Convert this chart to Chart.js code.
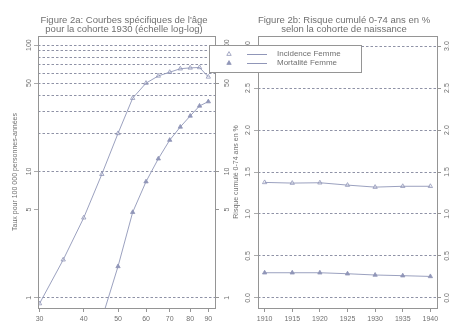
<!DOCTYPE html>
<html>
<head>
<meta charset="utf-8">
<script src="https://cdn.jsdelivr.net/npm/chart.js@4.4.0/dist/chart.umd.min.js"></script>
<style>
  html, body { margin: 0; padding: 0; background: #fff; }
  #wrap { position: relative; width: 453px; height: 329px; }
  canvas { position: absolute; left: 0; top: 0; }
</style>
</head>
<body>
<div id="wrap">
  <canvas id="ageChart" width="453" height="329"></canvas>
  <canvas id="cohortChart" width="453" height="329"></canvas>
</div>
<script>
// Figure 2a: age-specific rates for the 1930 cohort (log-log)
const ages = [30, 35, 40, 45, 50, 55, 60, 65, 70, 75, 80, 85, 90];
const incidenceByAge = [0.9, 2.0, 4.3, 9.5, 20, 38, 50, 57, 61, 65, 66, 66.5, 56];
const mortalityByAge = [null, null, null, 0.68, 1.77, 4.75, 8.3, 12.6, 17.7, 22.5, 27.5, 33, 35.7];
const ageTicks = [30, 40, 50, 60, 70, 80, 90];
const rateTicks = [1, 5, 10, 50, 100];
const rateGrid = [1, 10, 20, 30, 40, 50, 60, 70, 80, 90, 100];

// Figure 2b: cumulative risk 0-74 by birth cohort
const cohorts = [1910, 1915, 1920, 1925, 1930, 1935, 1940];
const incidenceCum = [1.376, 1.368, 1.372, 1.344, 1.32, 1.33, 1.33];
const mortalityCum = [0.30, 0.30, 0.30, 0.288, 0.273, 0.265, 0.256];
const riskTicks = [0, 0.5, 1, 1.5, 2, 2.5, 3];

const seriesNames = ['Incidence Femme', 'Mortalité Femme'];

const FONT = '"Liberation Sans", Arial, sans-serif';
const TEXT = '#707070';
const LINE = '#9096b8';
const GRID = '#72768f';
const BOX = '#959595';

const fixWidth = w => scale => { scale.width = w; };
const fixHeight = h => scale => { scale.height = h; };
const setTicks = vals => scale => { scale.ticks = vals.map(v => ({ value: v })); };

function rotatedLabels(ctx, scale, values, x, fmt) {
  values.forEach(v => {
    const y = scale.getPixelForValue(v);
    ctx.save();
    ctx.translate(x, y);
    ctx.rotate(-Math.PI / 2);
    ctx.fillText(fmt(v), 0, 0);
    ctx.restore();
  });
}

function drawLegend(ctx) {
  ctx.fillStyle = '#fff';
  ctx.fillRect(209.5, 45.5, 152, 27);
  ctx.strokeStyle = BOX;
  ctx.lineWidth = 1;
  ctx.strokeRect(209.5, 45.5, 152, 27);
  ctx.font = `8px ${FONT}`;
  ctx.textAlign = 'left';
  ctx.textBaseline = 'middle';
  seriesNames.forEach((name, i) => {
    const y = 54 + i * 9;
    // triangle symbol
    ctx.beginPath();
    ctx.moveTo(229, y - 2.4);
    ctx.lineTo(231.2, y + 1.4);
    ctx.lineTo(226.8, y + 1.4);
    ctx.closePath();
    ctx.strokeStyle = LINE;
    ctx.lineWidth = 0.8;
    if (i === 1) { ctx.fillStyle = LINE; ctx.fill(); }
    ctx.stroke();
    ctx.beginPath();
    ctx.moveTo(247, y + 0.5);
    ctx.lineTo(267, y + 0.5);
    ctx.lineWidth = 1;
    ctx.stroke();
    ctx.fillStyle = TEXT;
    ctx.fillText(name, 277, y);
  });
}

// titles, frame, rotated tick labels and legend
const panelDecor = {
  id: 'panelDecor',
  afterDraw(chart, args, opts) {
    const { ctx, chartArea: a } = chart;
    ctx.save();
    ctx.strokeStyle = BOX;
    ctx.lineWidth = 1;
    ctx.strokeRect(Math.round(a.left) + 0.5, Math.round(a.top) + 0.5,
      Math.round(a.right - a.left), Math.round(a.bottom - a.top));

    ctx.fillStyle = TEXT;
    ctx.textAlign = 'center';
    ctx.textBaseline = 'middle';
    ctx.font = `9.5px ${FONT}`;
    opts.title.forEach((t, i) => ctx.fillText(t, opts.titleX, 20 + i * 9.5));

    ctx.font = `7px ${FONT}`;
    rotatedLabels(ctx, chart.scales.y, opts.ticks, opts.leftLabelX, opts.fmt);
    rotatedLabels(ctx, chart.scales.y2, opts.ticks, opts.rightLabelX, opts.fmt);

    ctx.save();
    ctx.translate(opts.yTitleX, (a.top + a.bottom) / 2);
    ctx.rotate(-Math.PI / 2);
    ctx.fillText(opts.yTitle, 0, 0);
    ctx.restore();

    if (opts.legend) drawLegend(ctx);
    ctx.restore();
  }
};

const lineStyle = (filled) => ({
  borderColor: LINE,
  borderWidth: 0.9,
  pointStyle: 'triangle',
  pointRadius: 2.5,
  pointBorderWidth: 0.8,
  pointBorderColor: LINE,
  pointBackgroundColor: filled ? LINE : 'rgba(0,0,0,0)',
  tension: 0,
  clip: 0
});

const xTickFont = { family: FONT, size: 7 };

new Chart(document.getElementById('ageChart').getContext('2d'), {
  type: 'line',
  data: {
    datasets: [
      { label: seriesNames[0], data: ages.map((a, i) => ({ x: a, y: incidenceByAge[i] })), ...lineStyle(false) },
      { label: seriesNames[1], data: ages.map((a, i) => ({ x: a, y: mortalityByAge[i] })), ...lineStyle(true) }
    ]
  },
  options: {
    responsive: false,
    animation: false,
    layout: { padding: { left: 0, top: 36, right: 228, bottom: 0 } },
    plugins: {
      legend: { display: false },
      tooltip: { enabled: false },
      panelDecor: {
        title: ["Figure 2a: Courbes spécifiques de l'âge", 'pour la cohorte 1930 (échelle log-log)'],
        titleX: 124,
        yTitle: 'Taux pour 100 000 personnes-années',
        yTitleX: 15,
        ticks: rateTicks,
        leftLabelX: 29,
        rightLabelX: 227,
        fmt: v => String(v)
      }
    },
    scales: {
      x: {
        type: 'logarithmic',
        position: 'bottom',
        min: 29.7,
        max: 94,
        afterBuildTicks: setTicks(ageTicks),
        afterFit: fixHeight(21),
        ticks: { callback: v => String(v), font: xTickFont, color: TEXT, padding: 3, maxRotation: 0, autoSkip: false },
        grid: { drawOnChartArea: false, tickLength: 4, tickColor: BOX, color: BOX },
        border: { display: false }
      },
      y: {
        type: 'logarithmic',
        position: 'left',
        min: 0.83,
        max: 118,
        afterBuildTicks: setTicks([...new Set([...rateTicks, ...rateGrid])].sort((p, q) => p - q)),
        afterFit: fixWidth(38),
        ticks: { display: false },
        grid: {
          color: c => c.tick && rateGrid.includes(c.tick.value) ? GRID : 'rgba(0,0,0,0)',
          tickColor: c => c.tick && rateTicks.includes(c.tick.value) ? BOX : 'rgba(0,0,0,0)',
          lineWidth: 0.8,
          tickLength: 4
        },
        border: { display: false, dash: [2.5, 2] }
      },
      y2: {
        type: 'logarithmic',
        position: 'right',
        min: 0.83,
        max: 118,
        afterBuildTicks: setTicks(rateTicks),
        afterFit: fixWidth(10),
        ticks: { display: false },
        grid: { drawOnChartArea: false, tickColor: BOX, tickLength: 4 },
        border: { display: false }
      }
    }
  },
  plugins: [panelDecor]
});

new Chart(document.getElementById('cohortChart').getContext('2d'), {
  type: 'line',
  data: {
    datasets: [
      { label: seriesNames[0], data: cohorts.map((c, i) => ({ x: c, y: incidenceCum[i] })), ...lineStyle(false) },
      { label: seriesNames[1], data: cohorts.map((c, i) => ({ x: c, y: mortalityCum[i] })), ...lineStyle(true) }
    ]
  },
  options: {
    responsive: false,
    animation: false,
    layout: { padding: { left: 238, top: 36, right: 10, bottom: 0 } },
    plugins: {
      legend: { display: false },
      tooltip: { enabled: false },
      panelDecor: {
        title: ['Figure 2b: Risque cumulé 0-74 ans en %', 'selon la cohorte de naissance'],
        titleX: 344,
        yTitle: 'Risque cumulé 0-74 ans en %',
        yTitleX: 236,
        ticks: riskTicks,
        leftLabelX: 248,
        rightLabelX: 447,
        fmt: v => v.toFixed(1),
        legend: true
      }
    },
    scales: {
      x: {
        type: 'linear',
        position: 'bottom',
        min: 1908.8,
        max: 1941.2,
        afterBuildTicks: setTicks(cohorts),
        afterFit: fixHeight(21),
        ticks: { callback: v => String(v), font: xTickFont, color: TEXT, padding: 3, maxRotation: 0, autoSkip: false },
        grid: { drawOnChartArea: false, tickLength: 4, tickColor: BOX, color: BOX },
        border: { display: false }
      },
      y: {
        type: 'linear',
        position: 'left',
        min: -0.12,
        max: 3.12,
        afterBuildTicks: setTicks(riskTicks),
        afterFit: fixWidth(20),
        ticks: { display: false },
        grid: { color: GRID, tickColor: BOX, lineWidth: 0.8, tickLength: 4 },
        border: { display: false, dash: [2.5, 2] }
      },
      y2: {
        type: 'linear',
        position: 'right',
        min: -0.12,
        max: 3.12,
        afterBuildTicks: setTicks(riskTicks),
        afterFit: fixWidth(6),
        ticks: { display: false },
        grid: { drawOnChartArea: false, tickColor: BOX, tickLength: 4 },
        border: { display: false }
      }
    }
  },
  plugins: [panelDecor]
});
</script>
</body>
</html>
